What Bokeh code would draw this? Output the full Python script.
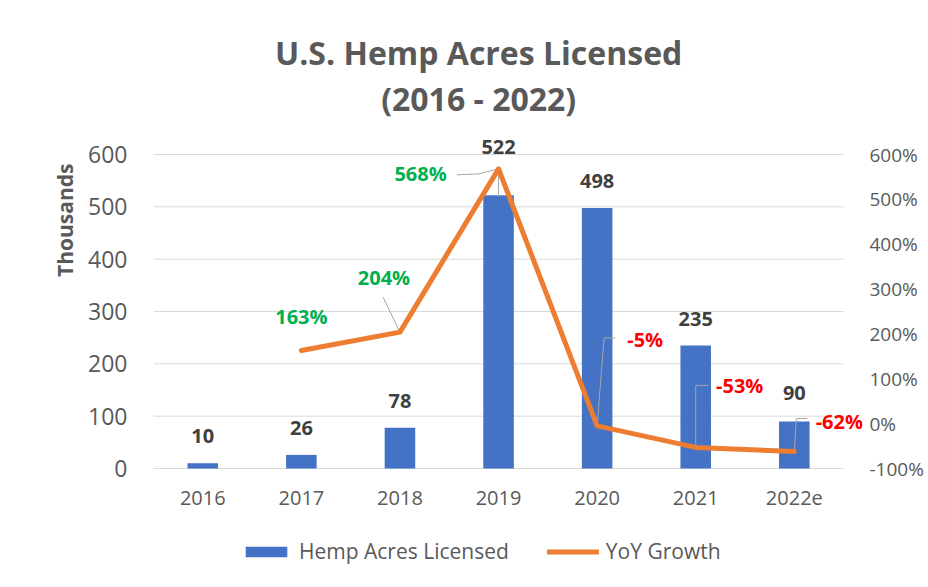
from bokeh.plotting import figure
from bokeh.models import (Range1d, LinearAxis, FixedTicker, Legend, LegendItem, Title,
                          ColumnDataSource, PrintfTickFormatter)
from bokeh.core.properties import value
from bokeh.embed import file_html
from bokeh.resources import INLINE

# ---------------- data ----------------
YEARS = ["2016", "2017", "2018", "2019", "2020", "2021", "2022e"]
ACRES = [10, 26, 78, 522, 498, 235, 90]            # thousands of acres
GROWTH_YEARS = ["2017", "2018", "2019", "2020", "2021", "2022e"]
GROWTH = [163, 204, 568, -5, -53, -62]              # YoY growth, %
LEFT_TICKS = [0, 100, 200, 300, 400, 500, 600]
RIGHT_TICKS = [-100, 0, 100, 200, 300, 400, 500, 600]
TITLE_1 = "U.S. Hemp Acres Licensed"
TITLE_2 = "(2016 - 2022)"
Y_TITLE = "Thousands"

# ---------------- styling / layout ----------------
FONT = "Open Sans"
BLUE = "#4472C4"
ORANGE = "#ED7D31"
GREEN = "#00B050"
RED = "#FF0000"
GREY_TXT = "#595959"
DARK_TXT = "#404040"
GRID = "#D9D9D9"
LEADER = "#A6A6A6"

W, H = 926, 585
BL = 153
FRAME_RIGHT = 866
TOP_ROW, AXIS_BOTTOM = 154, 468        # pixel rows of value 600 and value 0
BR = W - FRAME_RIGHT
PLOT_H = AXIS_BOTTOM - TOP_ROW         # px for 0..600
PX_PER_CAT = (847 - BL) / len(YEARS)   # category band width in px
X_END = (FRAME_RIGHT - BL) / PX_PER_CAT
UNITS_PER_PX = 600 / PLOT_H
Y_MAX = 600 + TOP_ROW * UNITS_PER_PX               # frame spans the whole height
Y_MIN = -(H - AXIS_BOTTOM) * UNITS_PER_PX
PCT_PER_PX = 700 / PLOT_H                          # right axis: -100..600 on the same rows
PCT_MAX = 600 + TOP_ROW * PCT_PER_PX
PCT_MIN = -100 - (H - AXIS_BOTTOM) * PCT_PER_PX

XPOS = {c: i + 0.5 for i, c in enumerate(YEARS)}


def px_x(px):
    return (px - BL) / PX_PER_CAT


def px_y(py):
    return (AXIS_BOTTOM - py) * UNITS_PER_PX


# label offsets in screen px (dx right, dy up)
BAR_LABEL_DY = [27, 27, 27, 48, 27, 27, 28]
GROWTH_LABEL_OFF = [(0, 34), (-16, 55), (-78, -5), (48, 86), (44, 62), (45, 30)]
# leader line vertices relative to the point (dx right, dy down) in px
LEADERS = {
    "2018": [(-17, -35), (0, 0)],
    "2019": [(-42, 6), (-20, 5), (0, 0)],
    "2020": [(18, -88), (7, -88), (0, 0)],
    "2021": [(13, -62), (0, -62), (0, 0)],
    "2022e": [(13, -33), (2, -33), (0, 0)],
}
BAR_LEADERS = {"2019": [(0, 0), (0, 28)]}

p = figure(width=W, height=H, x_range=Range1d(0, X_END), y_range=Range1d(Y_MIN, Y_MAX),
           output_backend="svg", toolbar_location=None, x_axis_location=None,
           title_location=None,
           min_border_left=BL, min_border_right=BR, min_border_top=0, min_border_bottom=0)
p.extra_y_ranges = {"pct": Range1d(PCT_MIN, PCT_MAX)}
p.outline_line_color = None
p.background_fill_color = "white"
p.border_fill_color = "white"
p.xgrid.grid_line_color = None
p.ygrid.grid_line_color = None

# gridlines (only across the category bands)
p.segment(x0=0, x1=len(YEARS), y0=LEFT_TICKS, y1=LEFT_TICKS, line_color=GRID, line_width=1)

# left axis
ya = p.yaxis[0]
ya.ticker = FixedTicker(ticks=LEFT_TICKS)
ya.axis_line_color = None
ya.major_tick_line_color = None
ya.minor_tick_line_color = None
ya.major_label_standoff = 20
ya.major_label_text_font = FONT
ya.major_label_text_font_size = "23px"
ya.major_label_text_color = GREY_TXT

# right axis
ra = LinearAxis(y_range_name="pct", ticker=FixedTicker(ticks=RIGHT_TICKS),
                formatter=PrintfTickFormatter(format="%d%%"))
ra.axis_line_color = None
ra.major_tick_line_color = None
ra.minor_tick_line_color = None
ra.major_label_standoff = 1
ra.major_label_text_font = FONT
ra.major_label_text_font_size = "19px"
ra.major_label_text_color = GREY_TXT
p.add_layout(ra, "right")

# chart title (two lines)
p.text(x=[px_x(480)] * 2, y=[px_y(52), px_y(98)], text=[TITLE_1, TITLE_2],
       text_align="center", text_baseline="middle", text_font=value(FONT),
       text_font_style="bold", text_font_size="32px", text_color=GREY_TXT)

# category labels under the bands
p.text(x=[XPOS[c] for c in YEARS], y=[0] * len(YEARS), text=YEARS, y_offset=29,
       text_align="center", text_baseline="middle", text_font=value(FONT),
       text_font_size="20px", text_color=GREY_TXT)

# bars
bar_src = ColumnDataSource(dict(x=[XPOS[c] for c in YEARS], top=ACRES,
                                lab=[str(v) for v in ACRES],
                                dy=[-d for d in BAR_LABEL_DY]))
bars = p.vbar(x="x", top="top", width=0.31, source=bar_src, fill_color=BLUE, line_color=None)
p.text(x="x", y="top", text="lab", y_offset="dy", source=bar_src,
       text_align="center", text_baseline="middle", text_font=value(FONT),
       text_font_style="bold", text_font_size="20px", text_color=DARK_TXT)

# leader lines
gxs, gys = [], []
for cat, pts in list(LEADERS.items()) + list(BAR_LEADERS.items()):
    g = GROWTH[GROWTH_YEARS.index(cat)]
    gxs.append([XPOS[cat] + dx / PX_PER_CAT for dx, dy in pts])
    gys.append([g - dy * PCT_PER_PX for dx, dy in pts])
p.multi_line(xs=gxs, ys=gys, y_range_name="pct", line_color=LEADER, line_width=1)

# growth line
line = p.line(x=[XPOS[c] for c in GROWTH_YEARS], y=GROWTH, y_range_name="pct",
              line_color=ORANGE, line_width=5, line_join="round", line_cap="round")

# growth labels
g_src = ColumnDataSource(dict(
    x=[XPOS[c] for c in GROWTH_YEARS], y=GROWTH, lab=[f"{g}%" for g in GROWTH],
    dx=[o[0] for o in GROWTH_LABEL_OFF], dy=[-o[1] for o in GROWTH_LABEL_OFF],
    col=[GREEN if g > 0 else RED for g in GROWTH]))
p.text(x="x", y="y", text="lab", x_offset="dx", y_offset="dy", source=g_src,
       y_range_name="pct", text_align="center", text_baseline="middle",
       text_font=value(FONT), text_font_style="bold", text_font_size="20px",
       text_color="col")

# y-axis title on the left
p.add_layout(Title(text=Y_TITLE, align="right", offset=163, standoff=14,
                   text_font=FONT, text_font_style="bold", text_font_size="21px",
                   text_color=GREY_TXT), "left")

# legend (inside the frame, below the category labels)
legend = Legend(items=[LegendItem(label="Hemp Acres Licensed", renderers=[bars]),
                       LegendItem(label="YoY Growth", renderers=[line])],
                location=(87, 20), orientation="horizontal",
                border_line_color=None, background_fill_alpha=0,
                padding=0, margin=0, spacing=38, glyph_width=52, glyph_height=13,
                label_standoff=7, label_text_font=FONT, label_text_font_size="21px",
                label_text_color=GREY_TXT)
p.add_layout(legend)

open("out.html", "w").write(file_html(p, INLINE))
